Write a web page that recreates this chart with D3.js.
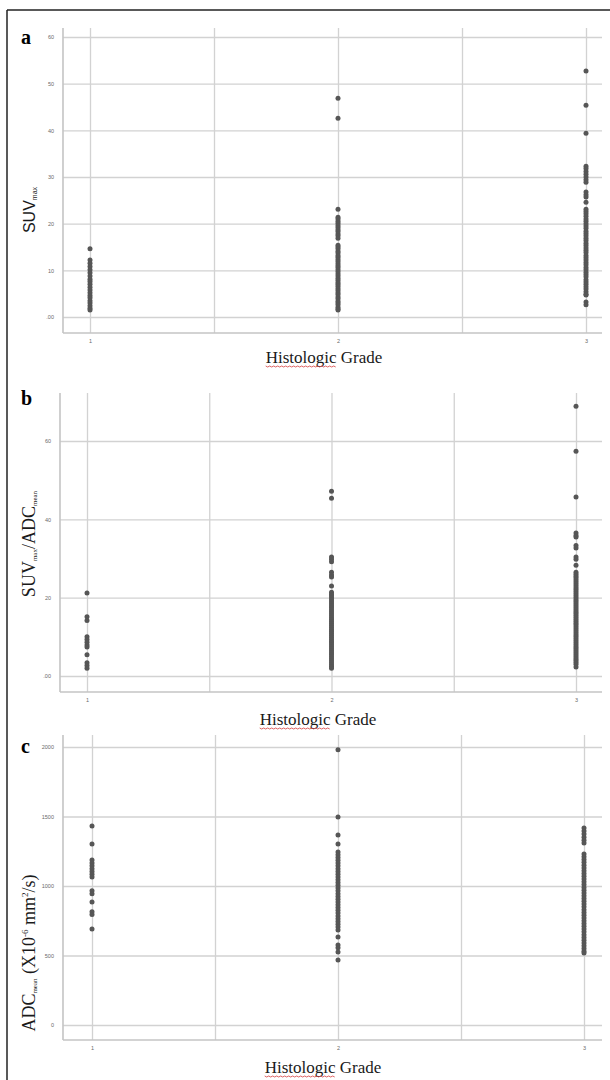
<!DOCTYPE html>
<html>
<head>
<meta charset="utf-8">
<script src="https://cdnjs.cloudflare.com/ajax/libs/d3/7.8.5/d3.min.js"></script>
<style>
  body { margin: 0; background: #fff; }
  .tick text { font-family: "Liberation Sans", Arial, sans-serif; fill: #6a6a6a; }
  .domain { display: none; }
</style>
</head>
<body>
<div id="chart"></div>
<script>
// grades on the x axis
var grades = [1, 2, 3];
var gridX = [1, 1.5, 2, 2.5, 3];

// panel a: SUVmax
var suvTicks = [0, 10, 20, 30, 40, 50, 60];
var suvG1 = [14.6, 12.2, 11.5, 10.8, 10.1, 9.5, 8.8, 8.1, 7.6, 7.0, 6.4, 5.8, 5.2, 4.6, 4.1, 3.5, 3.0, 2.4, 1.9, 1.5];
var suvG2 = [46.9, 42.6, 23.1, 21.4, 21.0, 20.5, 20.1, 19.6, 19.2, 18.7, 18.3, 17.8, 17.4, 16.9, 15.4, 15.0, 14.6, 14.1, 13.7, 13.2, 12.8, 12.3, 11.9, 11.4, 11.0, 10.6, 10.1, 9.7, 9.2, 8.8, 8.3, 7.9, 7.4, 7.0, 6.6, 6.1, 5.7, 5.2, 4.8, 4.3, 3.9, 3.4, 3.0, 2.6, 2.1, 1.7, 1.5];
var suvG3 = [52.7, 45.4, 39.4, 32.3, 31.8, 31.2, 30.6, 30.0, 29.4, 28.9, 26.8, 26.2, 25.7, 24.6, 23.1, 22.6, 22.1, 21.6, 21.0, 20.5, 20.0, 19.5, 19.0, 18.4, 17.9, 17.4, 16.9, 16.4, 15.8, 15.3, 14.8, 14.3, 13.8, 13.2, 12.7, 12.2, 11.7, 11.2, 10.6, 10.1, 9.6, 9.1, 8.6, 8.0, 7.5, 7.0, 6.5, 6.0, 5.4, 4.9, 4.7, 3.2, 2.6];

// panel b: SUVmax/ADCmean
var ratioTicks = [0, 20, 40, 60];
var ratioG1 = [21.2, 15.1, 14.2, 10.0, 9.3, 8.6, 7.9, 7.4, 5.4, 3.4, 2.7, 2.0];
var ratioG2 = [47.2, 45.4, 30.4, 29.8, 29.2, 26.5, 25.8, 25.3, 23.0, 21.4, 20.9, 20.4, 19.9, 19.4, 18.9, 18.4, 17.9, 17.4, 16.9, 16.4, 15.9, 15.4, 14.9, 14.4, 13.9, 13.4, 12.9, 12.4, 11.9, 11.4, 10.9, 10.4, 9.9, 9.4, 8.9, 8.4, 7.9, 7.4, 6.9, 6.4, 5.9, 5.4, 4.9, 4.4, 3.9, 3.4, 2.9, 2.4, 2.0];
var ratioG3 = [68.9, 57.4, 45.7, 36.5, 35.9, 35.5, 33.3, 32.7, 30.4, 29.8, 28.3, 26.5, 26.0, 25.5, 25.0, 24.5, 24.0, 23.5, 23.0, 22.5, 22.0, 21.5, 21.0, 20.5, 20.0, 19.5, 19.0, 18.5, 18.0, 17.5, 17.0, 16.5, 16.0, 15.5, 15.0, 14.5, 14.0, 13.5, 13.0, 12.5, 12.0, 11.5, 11.0, 10.5, 10.0, 9.5, 9.0, 8.5, 8.0, 7.5, 7.0, 6.5, 6.0, 5.5, 5.0, 4.5, 4.0, 3.5, 3.0, 2.3];

// panel c: ADCmean
var adcTicks = [0, 500, 1000, 1500, 2000];
var adcG1 = [1432, 1302, 1187, 1165, 1145, 1125, 1105, 1085, 1065, 965, 945, 885, 815, 795, 691];
var adcG2 = [1980, 1496, 1367, 1302, 1245, 1225, 1205, 1185, 1165, 1145, 1125, 1105, 1085, 1065, 1045, 1025, 1005, 985, 965, 945, 925, 905, 885, 865, 845, 825, 805, 785, 765, 745, 725, 705, 683, 633, 575, 555, 525, 468];
var adcG3 = [1417, 1395, 1375, 1350, 1330, 1309, 1230, 1210, 1190, 1170, 1150, 1130, 1110, 1090, 1070, 1050, 1030, 1010, 990, 970, 950, 930, 910, 890, 870, 850, 830, 810, 790, 770, 750, 730, 710, 690, 670, 650, 630, 610, 590, 570, 550, 530, 518];

var W = 610, H = 1080;
var svg = d3.select("#chart").append("svg")
	.attr("width", W)
	.attr("height", H);

// figure frame (left and top edges only are visible)
svg.append("line").attr("x1", 7).attr("x2", 7).attr("y1", 10).attr("y2", H).attr("stroke", "#222").attr("stroke-width", 1.5);
svg.append("line").attr("x1", 7).attr("x2", W).attr("y1", 10).attr("y2", 10).attr("stroke", "#222").attr("stroke-width", 1.5);

var serif = "'Liberation Serif', 'Times New Roman', serif";
var sans = "'Liberation Sans', Arial, sans-serif";

var panels = [
	{ letter: "a", letterY: 44, left: 63, right: 602, top: 28, bottom: 333, x1: 90, x3: 586,
		yMax: 60, y0: 317, yTop: 37, ticks: suvTicks, series: [suvG1, suvG2, suvG3],
		titleY: 363, titleX: 324, labelY: 210, labelFont: sans, labelSize: 16, label: [["SUV", 0], ["max", 1]] },
	{ letter: "b", letterY: 405, left: 60, right: 602, top: 393, bottom: 692, x1: 87, x3: 576,
		yMax: 60, y0: 676, yTop: 441, ticks: ratioTicks, series: [ratioG1, ratioG2, ratioG3],
		titleY: 725, titleX: 318, labelY: 544, labelFont: serif, labelSize: 18, label: [["SUV", 0], ["max", 1], ["/ADC", 0], ["mean", 1]] },
	{ letter: "c", letterY: 753, left: 63, right: 602, top: 735, bottom: 1040, x1: 92, x3: 584,
		yMax: 2000, y0: 1025, yTop: 747, ticks: adcTicks, series: [adcG1, adcG2, adcG3],
		titleY: 1073, titleX: 323, labelY: 953, labelFont: serif, labelSize: 18, label: [["ADC", 0], ["mean", 1], [" (X10", 0], ["-6", 2], [" mm", 0], ["2", 2], ["/s)", 0]] }
];

panels.forEach(function(p) {
	var g = svg.append("g");
	var x = d3.scaleLinear().domain([1, 3]).range([p.x1, p.x3]);
	var y = d3.scaleLinear().domain([0, p.yMax]).range([p.y0, p.yTop]);

	// horizontal grid + tick labels
	g.append("g")
		.attr("transform", "translate(" + p.left + ",0)")
		.call(d3.axisLeft(y).tickValues(p.ticks).tickSize(-(p.right - p.left)).tickPadding(9)
			.tickFormat(function(d) { return d === 0 && p.yMax === 60 ? ".00" : d; }))
		.call(function(a) {
			a.selectAll("line").attr("stroke", "#d2d2d2").attr("stroke-width", 1.3);
			a.selectAll("text").style("font-size", "5.5px");
		});

	// vertical grid + category labels
	g.append("g")
		.attr("transform", "translate(0," + p.bottom + ")")
		.call(d3.axisBottom(x).tickValues(gridX).tickSize(-(p.bottom - p.top)).tickPadding(6)
			.tickFormat(function(d) { return grades.indexOf(d) >= 0 ? d : ""; }))
		.call(function(a) {
			a.selectAll("line").attr("stroke", "#d2d2d2").attr("stroke-width", 1.3);
			a.selectAll("text").style("font-size", "5.5px");
		});

	// axis lines
	g.append("line").attr("x1", p.left).attr("x2", p.left).attr("y1", p.top).attr("y2", p.bottom)
		.attr("stroke", "#c4c4c4").attr("stroke-width", 1.6);
	g.append("line").attr("x1", p.left).attr("x2", p.right).attr("y1", p.bottom).attr("y2", p.bottom)
		.attr("stroke", "#c4c4c4").attr("stroke-width", 1.6);

	// dots
	p.series.forEach(function(vals, i) {
		g.selectAll(null)
			.data(vals)
			.enter().append("circle")
			.attr("cx", x(grades[i]))
			.attr("cy", function(d) { return y(d); })
			.attr("r", 2.5)
			.attr("fill", "#565656");
	});

	// panel letter
	g.append("text")
		.attr("x", 21).attr("y", p.letterY)
		.style("font-family", serif)
		.style("font-weight", "bold")
		.style("font-size", "20px")
		.text(p.letter);

	// x title with the spell-check squiggle under "Histologic"
	var title = g.append("text")
		.attr("x", p.titleX).attr("y", p.titleY)
		.attr("text-anchor", "middle")
		.style("font-family", serif)
		.style("font-size", "17px")
		.attr("fill", "#1a1a1a")
		.text("Histologic Grade");
	var tw = title.node().getComputedTextLength();
	var sx = p.titleX - tw / 2;
	var wordW = tw * 0.6;
	var pts = [];
	for (var k = 0; k <= Math.round(wordW / 2); k++) {
		pts.push([sx + k * 2, p.titleY + 3 + (k % 2 ? 1 : 0)]);
	}
	g.append("path").attr("d", d3.line()(pts)).attr("fill", "none").attr("stroke", "#d43a3a").attr("stroke-width", 0.8);

	// y title, rotated
	var yl = g.append("text")
		.attr("transform", "translate(35," + p.labelY + ") rotate(-90)")
		.attr("text-anchor", "middle")
		.style("font-family", p.labelFont)
		.style("font-size", p.labelSize + "px")
		.attr("fill", "#1a1a1a");
	p.label.forEach(function(part) {
		var ts = yl.append("tspan").text(part[0]);
		if (part[1] === 1) ts.style("font-size", "7px");
		else if (part[1] === 2) ts.style("font-size", "9px");
		ts.attr("data-kind", part[1]);
	});
	// baselines for sub/superscripts
	var prev = 0;
	yl.selectAll("tspan").each(function() {
		var kind = +this.getAttribute("data-kind");
		var want = kind === 1 ? 2 : kind === 2 ? -7 : 0;
		d3.select(this).attr("dy", want - prev);
		prev = want;
	});
});
</script>
</body>
</html>
